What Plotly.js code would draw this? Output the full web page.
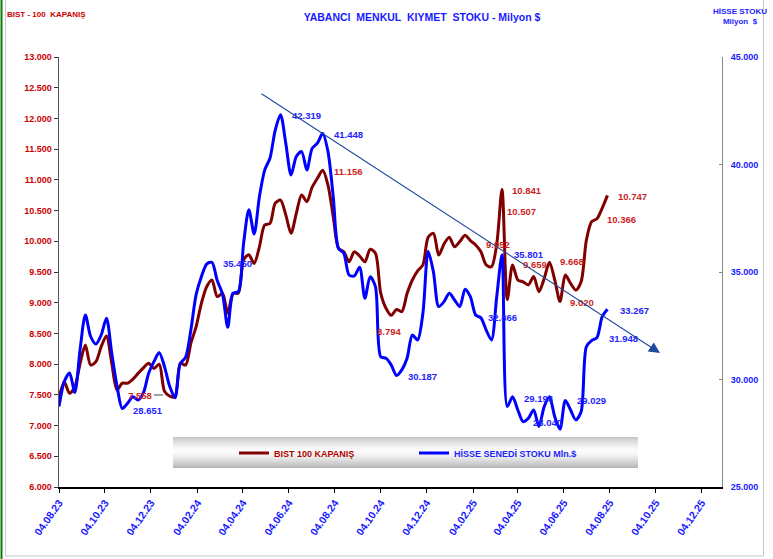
<!DOCTYPE html>
<html>
<head>
<meta charset="utf-8">
<script src="https://cdn.plot.ly/plotly-3.0.1.min.js"></script>
<style>html,body{margin:0;padding:0;background:#fff;}#chart{width:773px;height:559px;}</style>
</head>
<body>
<div id="chart"></div>
<script>
// ---------- DATA ----------
const dates = [
"2023-08-04","2023-08-11","2023-08-18","2023-08-25","2023-09-01","2023-09-08","2023-09-15","2023-09-22","2023-09-29",
"2023-10-06","2023-10-13","2023-10-20","2023-10-27","2023-11-03","2023-11-10","2023-11-17","2023-11-24",
"2023-12-01","2023-12-08","2023-12-15","2023-12-22","2023-12-29",
"2024-01-05","2024-01-12","2024-01-19","2024-01-26","2024-02-02","2024-02-09","2024-02-16","2024-02-23",
"2024-03-01","2024-03-08","2024-03-15","2024-03-22","2024-03-29","2024-04-05","2024-04-12","2024-04-19","2024-04-26",
"2024-05-03","2024-05-10","2024-05-17","2024-05-24","2024-05-31","2024-06-07","2024-06-14","2024-06-21","2024-06-28",
"2024-07-05","2024-07-12","2024-07-19","2024-07-26","2024-08-02","2024-08-09","2024-08-16","2024-08-23","2024-08-30",
"2024-09-06","2024-09-13","2024-09-20","2024-09-27","2024-10-04","2024-10-11","2024-10-18","2024-10-25",
"2024-11-01","2024-11-08","2024-11-15","2024-11-22","2024-11-29","2024-12-06","2024-12-13","2024-12-20","2024-12-27",
"2025-01-03","2025-01-10","2025-01-17","2025-01-24","2025-01-31","2025-02-07","2025-02-14","2025-02-21","2025-02-28",
"2025-03-07","2025-03-14","2025-03-21","2025-03-28","2025-04-04","2025-04-11","2025-04-18","2025-04-25",
"2025-05-02","2025-05-09","2025-05-16","2025-05-23","2025-05-30","2025-06-06","2025-06-13","2025-06-20","2025-06-27",
"2025-07-04","2025-07-11","2025-07-18","2025-07-25","2025-08-01"
];
const bist100 = [
7450,7710,7525,7630,8010,8310,7985,8040,8285,8458,8015,7580,7690,7690,7755,7850,7940,8015,7930,8000,7558,7480,
7470,8015,7985,8340,8610,8990,9260,9370,9100,9150,8830,9150,9155,9700,9780,9640,9910,10265,10290,10620,10670,10430,
10130,10455,10755,10645,10880,11025,11156,10915,10400,9885,9830,9665,9830,9760,9665,9870,9805,9155,8910,8794,8890,
8855,9150,9370,9520,9615,10065,10130,9775,9955,10065,9910,9995,10100,10010,9940,9830,9615,9585,9952,10841,9050,
9615,9370,9340,9290,9425,9180,9395,9659,9370,9020,9450,9315,9205,9340,10020,10320,10366,10540,10747
];
const hisseStoku = [
28740,29900,30300,29400,31400,33000,32000,31650,32070,32850,31220,29700,28651,28890,29200,29050,29380,30290,30830,31250,30600,29670,
29150,30750,31030,32300,33950,34780,35370,35450,34600,33980,32430,34010,34090,36330,37900,36770,38500,39740,40290,41600,42319,40990,
39510,40370,40600,39740,40750,40990,41448,40600,38500,36100,35870,34860,34815,35220,33780,34780,34320,31060,30985,30675,30187,
30445,30985,32070,31840,33080,35950,35000,33390,33620,34010,33700,33390,34200,33850,33000,32866,32300,31840,33850,35801,28740,
29200,28580,28040,28200,28580,27810,28740,29193,28270,27690,29029,28580,28120,28500,31530,31810,31948,32920,33267
];
const bistLabels  = ["11.156","10.841","10.507","9.952","9.659","9.668","9.020","10.747","10.366","8.794","7.558"];
const stockLabels = ["28.651","35.450","42.319","41.448","30.187","32.866","35.801","29.193","28.040","29.029","31.948","33.267"];
const seriesNames = ["BIST 100 KAPANIŞ","HİSSE SENEDİ STOKU Mln.$"];

// ---------- LAYOUT HELPERS (pixel -> paper) ----------
const L=59, R=722, T=57, B=487;
const fx = x => (x-L)/(R-L);
const fy = y => (B-y)/(B-T);
const FONT = "Liberation Sans, Arial, sans-serif";

const bistLabelPos  = [[348,171.5],[527,190.7],[521.5,211.7],[498,244.3],[535,264.5],[571.5,261.7],[582,302.7],[632,196],[621,219.3],[388.7,331],[139.7,395]];
const stockLabelPos = [[147.8,410],[237.5,263.3],[306.3,115],[348.7,134],[422.8,376.7],[502,317.7],[528.5,254.5],[538.8,398.3],[547,422.7],[591.3,400.7],[623.3,338.3],[634.7,310]];

const annotations = [];
bistLabels.forEach((t,i)=>annotations.push({xref:'paper',yref:'paper',x:fx(bistLabelPos[i][0]),y:fy(bistLabelPos[i][1]),
  text:t,showarrow:false,xanchor:'center',yanchor:'middle',font:{family:FONT,size:9.5,color:'#cc1f1f',weight:'bold'}}));
stockLabels.forEach((t,i)=>annotations.push({xref:'paper',yref:'paper',x:fx(stockLabelPos[i][0]),y:fy(stockLabelPos[i][1]),
  text:t,showarrow:false,xanchor:'center',yanchor:'middle',font:{family:FONT,size:9.5,color:'#2323ff',weight:'bold'}}));
// corner captions
annotations.push({xref:'paper',yref:'paper',x:fx(46.5),y:fy(15),text:'BIST - 100  KAPANIŞ',showarrow:false,xanchor:'center',yanchor:'middle',
  font:{family:FONT,size:8,color:'#cc0000',weight:'bold'}});
annotations.push({xref:'paper',yref:'paper',x:fx(740),y:fy(16),text:'HİSSE STOKU<br>Milyon  $',showarrow:false,xanchor:'center',yanchor:'middle',align:'center',
  font:{family:FONT,size:8,color:'#2323ff',weight:'bold'}});
// trend arrow
const trendStart=[260,92.7], trendEnd=[660,353];
annotations.push({xref:'paper',yref:'paper',x:fx(trendEnd[0]),y:fy(trendEnd[1]),axref:'pixel',ayref:'pixel',
  ax:trendStart[0]-trendEnd[0],ay:trendStart[1]-trendEnd[1],text:'',showarrow:true,arrowhead:2,arrowsize:2,arrowwidth:1.1,arrowcolor:'#1f4a9e',standoff:0});

// shapes: legend gradient box, frame, leader line
const shapes = [];
const by0=437, by1=468, n=by1-by0;
for(let k=0;k<n;k++){
  const t=(k+0.5)/n;
  const v=Math.round(252-72*Math.pow(Math.abs(t-0.45)/0.55,1.4));
  shapes.push({type:'rect',xref:'paper',yref:'paper',x0:fx(173),x1:fx(638),y0:fy(by0+k+1.05),y1:fy(by0+k),
    fillcolor:`rgb(${v},${v},${v})`,line:{width:0},layer:'below'});
}
shapes.push({type:'line',xref:'paper',yref:'paper',x0:fx(1.5),x1:fx(1.5),y0:fy(0),y1:fy(559),line:{color:'#0a7d0a',width:2}});
shapes.push({type:'line',xref:'paper',yref:'paper',x0:fx(5.5),x1:fx(5.5),y0:fy(0),y1:fy(556),line:{color:'#c9c9c9',width:1}});
shapes.push({type:'line',xref:'paper',yref:'paper',x0:fx(763.5),x1:fx(763.5),y0:fy(0),y1:fy(556),line:{color:'#c9c9c9',width:1}});
shapes.push({type:'line',xref:'paper',yref:'paper',x0:fx(5.5),x1:fx(763.5),y0:fy(556),y1:fy(556),line:{color:'#c9c9c9',width:1}});
shapes.push({type:'line',xref:'paper',yref:'paper',x0:fx(154),x1:fx(163),y0:fy(395),y1:fy(395),line:{color:'#444',width:1}});

const traces = [
  {x:dates,y:bist100,name:'<span style="color:#b00000">'+seriesNames[0]+'</span>',type:'scatter',mode:'lines',yaxis:'y',
   line:{color:'#800000',width:3,shape:'spline',smoothing:0.8},hoverinfo:'skip'},
  {x:dates,y:hisseStoku,name:'<span style="color:#1f1fff">'+seriesNames[1]+'</span>',type:'scatter',mode:'lines',yaxis:'y2',
   line:{color:'#0000ff',width:3,shape:'spline',smoothing:0.8},hoverinfo:'skip'}
];

const layout = {
  width:773,height:559,
  margin:{l:L,r:773-R,t:T,b:559-B,pad:0},
  paper_bgcolor:'#ffffff',plot_bgcolor:'#ffffff',
  separators:',.',
  showlegend:true,
  title:{text:'YABANCI  MENKUL  KIYMET  STOKU - Milyon $',xref:'paper',x:fx(422),xanchor:'center',yref:'container',y:1-17/559,yanchor:'middle',
    font:{family:FONT,size:10.5,color:'#1a1aff',weight:'bold'}},
  xaxis:{type:'date',range:['2023-08-04','2025-12-31'],tick0:'2023-08-04',dtick:'M2',tickformat:'%d.%m.%y',tickangle:-55,
    showgrid:false,zeroline:false,showline:true,linecolor:'#000',linewidth:1.5,ticks:'outside',ticklen:4,tickcolor:'#000',
    tickfont:{family:FONT,size:10.5,color:'#1a1aff',weight:'bold'}},
  yaxis:{range:[6000,13000],dtick:500,tick0:6000,tickformat:',d',showgrid:false,zeroline:false,showline:true,linecolor:'#555',linewidth:1.5,
    ticks:'outside',ticklen:4,tickcolor:'#333',tickfont:{family:FONT,size:9,color:'#cc0000',weight:'bold'}},
  yaxis2:{range:[25000,45000],dtick:5000,tick0:25000,tickformat:',d',overlaying:'y',side:'right',showgrid:false,zeroline:false,
    showline:true,linecolor:'#888',linewidth:1,ticks:'inside',ticklen:3,tickcolor:'#888',ticklabelstandoff:6,
    tickfont:{family:FONT,size:9,color:'#1a1aff',weight:'bold'}},
  legend:{orientation:'h',x:fx(234),xanchor:'left',y:fy(453),yanchor:'middle',bgcolor:'rgba(0,0,0,0)',borderwidth:0,
    entrywidth:135,entrywidthmode:'pixels',font:{family:FONT,size:9,color:'#1a1aff',weight:'bold'}},
  annotations:annotations,
  shapes:shapes
};
Plotly.newPlot('chart',traces,layout,{displayModeBar:false,staticPlot:true});
</script>
</body>
</html>
